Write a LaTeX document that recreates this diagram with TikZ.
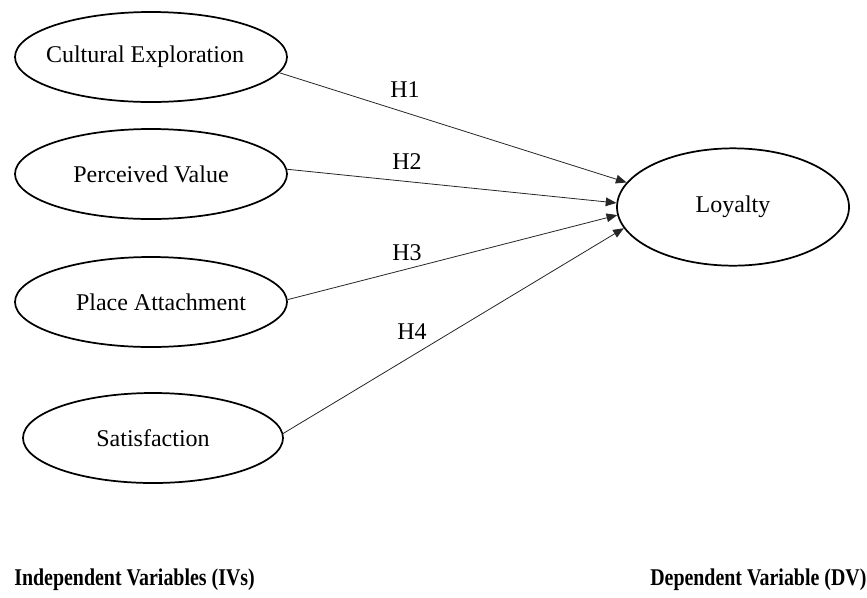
\documentclass[tikz,border=0pt]{standalone}
\usepackage{fontspec}
\setmainfont{Liberation Serif}
\usetikzlibrary{arrows.meta,shapes.geometric}
\tikzset{
  ivbox/.style={draw=black, line width=1.3pt, ellipse, inner sep=0pt,
    minimum width=204pt, minimum height=67.5pt,
    font=\fontsize{18}{21.6}\selectfont},
  dvbox/.style={draw=black, line width=1.3pt, ellipse, inner sep=0pt,
    minimum width=174pt, minimum height=88pt,
    font=\fontsize{18}{21.6}\selectfont},
  link/.style={draw=black!85, line width=0.6pt, -{Triangle[length=8pt,width=6.5pt]}},
  hyp/.style={font=\fontsize{18}{21.6}\selectfont, inner sep=0pt},
  foot/.style={font=\fontsize{18}{21.6}\selectfont\bfseries, inner sep=0pt, anchor=west}
}
\begin{document}
\begin{tikzpicture}[x=0.75pt, y=-0.75pt]
\useasboundingbox[fill=white] (0,0) rectangle (867,597);
\node[ivbox] (ce) at (151,57) {\makebox[0pt]{\raisebox{1.5pt}{\kern-9pt Cultural Exploration}}};
\node[ivbox] (pv) at (151,174) {\makebox[0pt]{Perceived Value}};
\node[ivbox] (pa) at (151,302) {\makebox[0pt]{\kern15pt Place Attachment}};
\node[ivbox, minimum width=195pt] (sa) at (153,438) {\makebox[0pt]{Satisfaction}};
\node[dvbox] (lo) at (733,207) {Loyalty};

\draw[link] (ce.-7.5) -- (lo.167);
\draw[link] (pv.2.6) -- (lo.178);
\draw[link] (pa.1.7) -- (lo.184);
\draw[link] (sa.2) -- (lo.191.5);

\node[hyp] (h1) at (405,90) {H1};
\node[hyp] (h2) at (407,162) {H2};
\node[hyp] (h3) at (407,253) {H3};
\node[hyp] (h4) at (412,332) {H4};

\node[foot] (iv) at (14,580) {\scalebox{0.83}[1]{Independent Variables (IVs)}};
\node[foot] (dv) at (650,580) {\scalebox{0.83}[1]{Dependent Variable (DV)}};
\end{tikzpicture}
\end{document}
